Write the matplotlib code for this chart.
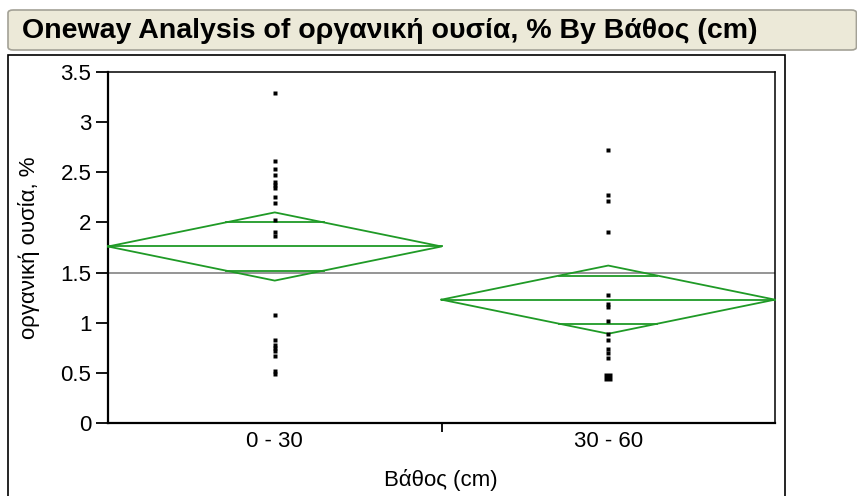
import numpy as np
import matplotlib
matplotlib.use("Agg")
import matplotlib.pyplot as plt
from matplotlib.patches import Rectangle, FancyBboxPatch
from collections import Counter

plt.rcParams['font.family'] = ['Liberation Sans', 'DejaVu Sans']

# data
groups = ["0 - 30", "30 - 60"]
depth_0_30 = [3.29, 2.61, 2.53, 2.47, 2.40, 2.37, 2.34, 2.25, 2.19, 2.02,
              1.90, 1.86, 1.08, 0.83, 0.78, 0.75, 0.72, 0.67, 0.52, 0.49]
depth_30_60 = [2.72, 2.27, 2.21, 1.90, 1.28, 1.19, 1.16, 1.02, 0.89, 0.83,
               0.74, 0.70, 0.65, 0.46, 0.46, 0.46, 0.46, 0.46]
group_means = [1.76, 1.23]
ci_half = [0.34, 0.34]
grand_mean = 1.50
yticks = [0, 0.5, 1, 1.5, 2, 2.5, 3, 3.5]
ytick_labels = ["0", "0.5", "1", "1.5", "2", "2.5", "3", "3.5"]

green = "#1f9a26"

fig = plt.figure(figsize=(8.57, 4.96), dpi=100)

# title bar
fig.patches.append(FancyBboxPatch((8 / 857, 1 - 50 / 496), 0.99, 40 / 496,
                                  boxstyle="round,pad=0,rounding_size=0.006",
                                  transform=fig.transFigure, facecolor="#ece9d8",
                                  edgecolor="#a3a196", lw=1.2))
fig.text(22 / 857, 1 - 31 / 496, "Oneway Analysis of οργανική ουσία, % By Βάθος (cm)",
         fontsize=20.5, fontweight="bold", va="center", ha="left")

# outer report frame
fig.patches.append(Rectangle((8 / 857, -0.02), (785 - 8) / 857, 1.02 - 55 / 496,
                             transform=fig.transFigure, fill=False,
                             edgecolor="black", lw=1.2))

ax = fig.add_axes([108 / 857, 73 / 496, 667 / 857, 351 / 496])
ax.set_xlim(0.5, 2.5)
ax.set_ylim(0, 3.5)

# grand mean
ax.axhline(grand_mean, color="#8c8c8c", lw=1.3, zorder=1)

# mean diamonds with overlap marks
for i, (m, h) in enumerate(zip(group_means, ci_half)):
    c = i + 1
    ax.plot([c - 0.5, c, c + 0.5, c, c - 0.5], [m, m + h, m, m - h, m],
            color=green, lw=1.3, clip_on=False, zorder=3)
    ax.plot([c - 0.5, c + 0.5], [m, m], color=green, lw=1.3, clip_on=False, zorder=3)
    d = h / np.sqrt(2)
    w = 0.5 * (1 - d / h)
    for s in (1, -1):
        ax.plot([c - w, c + w], [m + s * d, m + s * d], color=green, lw=1.3, zorder=3)

# points, bigger square where values repeat
for i, vals in enumerate([depth_0_30, depth_30_60]):
    for v, n in Counter(vals).items():
        ax.plot(i + 1, v, marker="s", color="black", ms=2.3 * np.sqrt(n),
                mec="none", ls="none", zorder=4)

ax.set_yticks(yticks)
ax.set_yticklabels(ytick_labels)
ax.set_xticks([1.5])
ax.set_xticklabels([""])
ax.set_xticks([1, 2], minor=True)
ax.set_xticklabels(groups, minor=True)
ax.tick_params(axis="y", direction="out", length=9, width=1.3, pad=3, labelsize=16)
ax.tick_params(axis="x", which="major", direction="out", length=6.5, width=1.3)
ax.tick_params(axis="x", which="minor", length=0, pad=6, labelsize=16)

for side in ["left", "bottom"]:
    ax.spines[side].set_linewidth(1.6)
for side in ["top", "right"]:
    ax.spines[side].set_linewidth(1.1)

fig.text(29 / 857, 1 - 248 / 496, "οργανική ουσία, %", rotation=90,
         fontsize=16, va="center", ha="center")
fig.text(441 / 857, 1 - 480 / 496, "Βάθος (cm)", fontsize=16, va="center", ha="center")

fig.savefig("out.png", dpi=100)
